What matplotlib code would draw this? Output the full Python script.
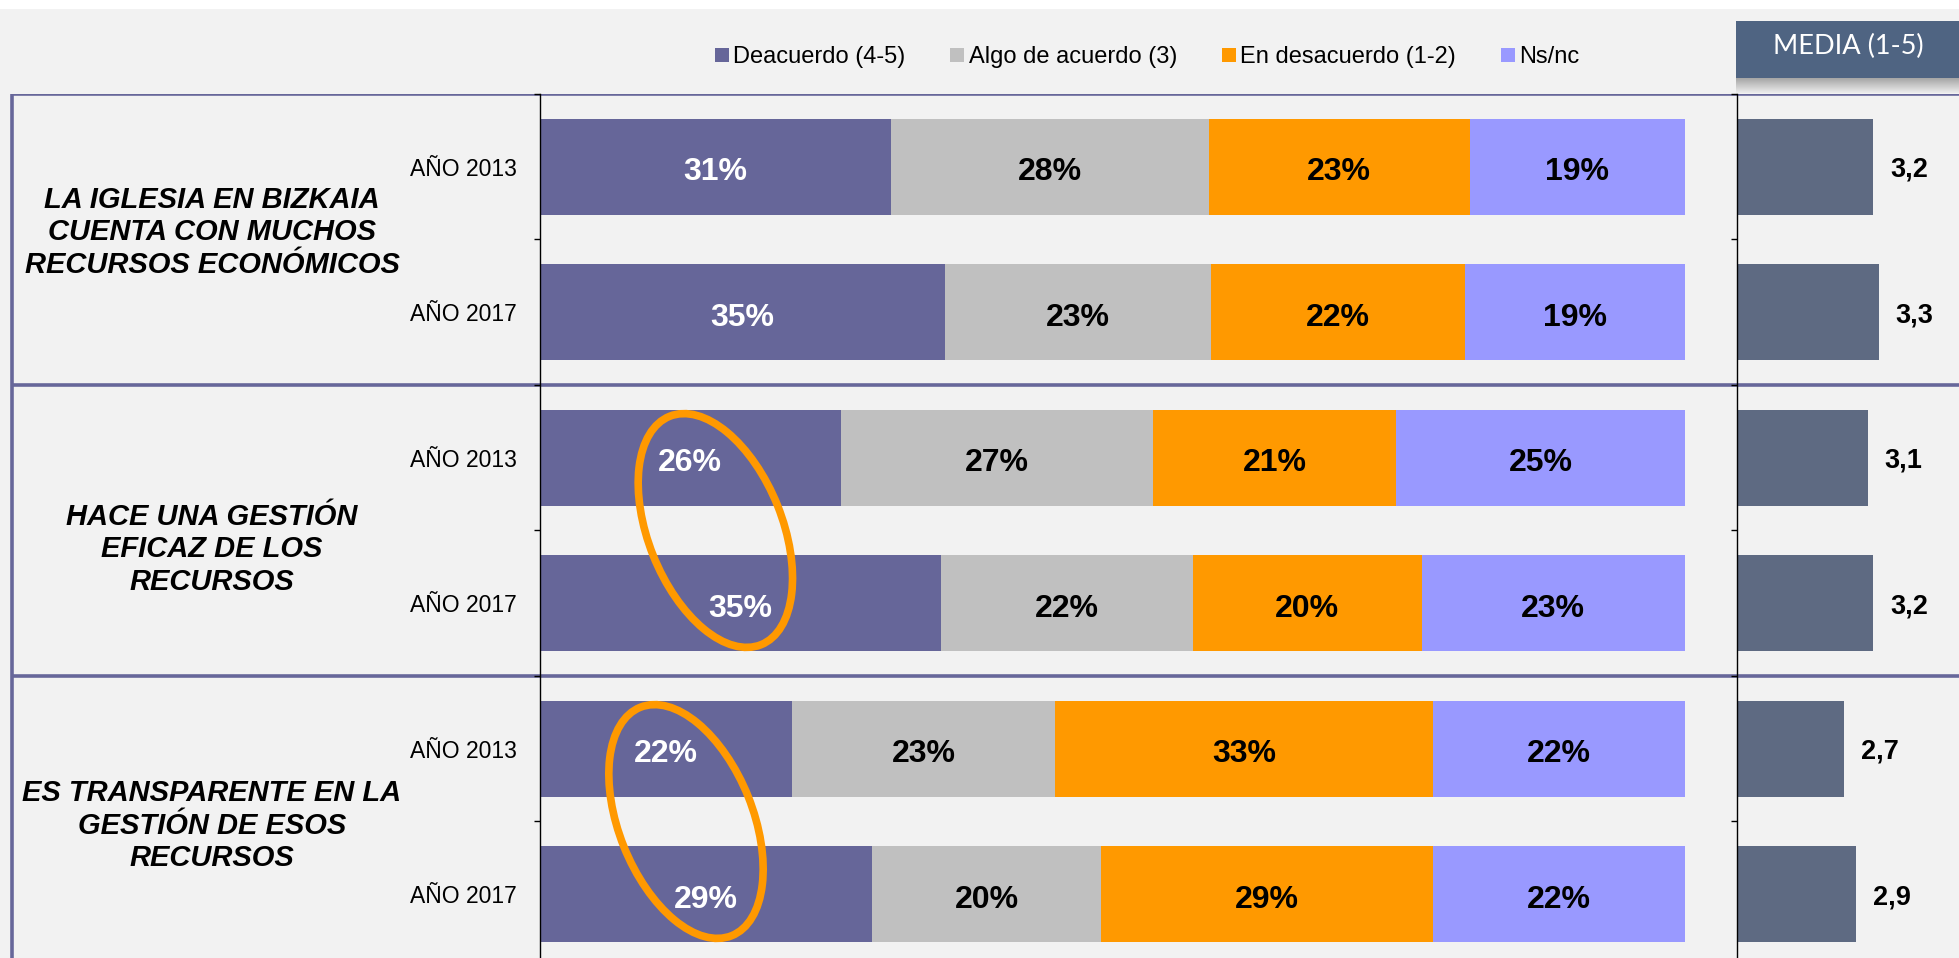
import numpy as np
import matplotlib
matplotlib.use('Agg')
import matplotlib.pyplot as plt
import matplotlib.transforms as mtransforms
from matplotlib.patches import Ellipse, Rectangle
from matplotlib.lines import Line2D
from matplotlib.colors import LinearSegmentedColormap

plt.rcParams['font.family'] = ['Liberation Sans', 'DejaVu Sans']

# data
categories = ['LA IGLESIA EN BIZKAIA\nCUENTA CON MUCHOS\nRECURSOS ECONÓMICOS',
              'HACE UNA GESTIÓN\nEFICAZ DE LOS\nRECURSOS',
              'ES TRANSPARENTE EN LA\nGESTIÓN DE ESOS\nRECURSOS']
years = ['AÑO 2013', 'AÑO 2017']
series = ['Deacuerdo (4-5)', 'Algo de acuerdo (3)', 'En desacuerdo (1-2)', 'Ns/nc']
de_acuerdo = [31, 35, 26, 35, 22, 29]
algo_acuerdo = [28, 23, 27, 22, 23, 20]
desacuerdo = [23, 22, 21, 20, 33, 29]
nsnc = [19, 19, 25, 23, 22, 22]
media = [3.2, 3.3, 3.1, 3.2, 2.7, 2.9]
highlight = [(2, 3), (4, 5)]

colors = ['#666699', '#c0c0c0', '#ff9900', '#9999ff']
text_colors = ['white', 'black', 'black', 'black']
media_color = '#5e6a82'
line_color = '#67679a'
title_shift = [-0.05, 0.13, 0.03]   # vertical nudge of the category titles (rows)

W, H = 1959, 958
fig = plt.figure(figsize=(W / 100, H / 100), dpi=100, facecolor='#f2f2f2')


def fx(px):
    return px / W


def fy(py):
    return 1 - py / H


top, bottom = 94, 967
ax_h = (bottom - top) / H
bg = fig.add_axes([0, fy(bottom), 1, ax_h], zorder=-1)
ax = fig.add_axes([fx(540), fy(bottom), fx(1685) - fx(540), ax_h])
axm = fig.add_axes([fx(1737), fy(bottom), 1 - fx(1737), ax_h])

y = np.arange(len(de_acuerdo))
data = np.array([de_acuerdo, algo_acuerdo, desacuerdo, nsnc], dtype=float)
shares = data / data.sum(axis=0) * 100

left = np.zeros(len(y))
for i in range(len(series)):
    ax.barh(y, shares[i], left=left, height=0.66, color=colors[i])
    for yy, l, w, v in zip(y, left, shares[i], data[i]):
        ax.text(l + w / 2, yy + 0.015, f'{v:.0f}%', ha='center', va='center_baseline',
                fontsize=23, fontweight='bold', color=text_colors[i])
    left += shares[i]
ax.set_xlim(0, 100)

axm.barh(y, media, height=0.66, color=media_color)
for yy, m in zip(y, media):
    axm.annotate(f'{m:.1f}'.replace('.', ','), (m, yy), xytext=(12, 0),
                 textcoords='offset points', ha='left', va='center_baseline',
                 fontsize=19.5, fontweight='bold')
axm.set_xlim(0.86, 4.67)

for a in (ax, axm):
    a.set_ylim(5.5, -0.5)
    a.set_yticks(np.arange(-0.5, 6, 1))
    a.set_yticklabels([])
    a.tick_params(axis='y', which='major', direction='out', length=4.5, width=1)
    a.set_xticks([])
    for s in ['top', 'right', 'bottom']:
        a.spines[s].set_visible(False)
    a.spines['left'].set_linewidth(1)
    a.patch.set_alpha(0)

ax.set_yticks(y, minor=True)
ax.set_yticklabels(years * 3, minor=True, fontsize=16.5)
ax.tick_params(axis='y', which='minor', length=0, pad=16.5)

# ellipses around the "de acuerdo" labels
for r1, r2 in highlight:
    cx = (shares[0][r1] + shares[0][r2]) / 4
    cy = (r1 + r2) / 2
    tr = fig.dpi_scale_trans + mtransforms.ScaledTranslation(cx, cy, ax.transData)
    e = Ellipse((0, 0), 1.34, 2.46, angle=21.8, transform=tr, fill=False,
                edgecolor='#ff9900', lw=5.5, clip_on=False, zorder=5)
    ax.add_patch(e)

# section frame and category titles
bg.set_xlim(0, W)
bg.set_ylim(5.5, -0.5)
bg.axis('off')
bg.hlines([-0.5, 1.5, 3.5], 12, W, color=line_color, lw=2.6)
bg.vlines(12, -0.5, 5.5, color=line_color, lw=2.6)
for i, cat in enumerate(categories):
    bg.text(212, 2 * i + 0.5 + title_shift[i], cat, ha='center', va='center', fontsize=21,
            fontweight='bold', style='italic', linespacing=1.2)

# legend
handles = [Line2D([], [], ls='none', marker='s', markersize=9.4, markeredgewidth=0,
                  color=c) for c in colors]
fig.legend(handles, series, loc='center', bbox_to_anchor=(fx(1147), fy(57)), ncol=4,
           frameon=False, fontsize=17, handlelength=0.6, handletextpad=0.17,
           columnspacing=1.9, borderpad=0)

# white strip on top and MEDIA header box
fig.add_artist(Rectangle((0, fy(9)), 1, 9 / H, transform=fig.transFigure,
                         color='white', lw=0))
fig.add_artist(Rectangle((fx(1736), fy(78)), 1 - fx(1736), (78 - 21) / H,
                         transform=fig.transFigure, color='#4f6482', lw=0))
fig.text(fx(1848), fy(44), 'MEDIA (1-5)', ha='center', va='center_baseline', color='white',
         fontsize=19.5, family=['Lato', 'DejaVu Sans'])
gax = fig.add_axes([fx(1736), fy(93), 1 - fx(1736), 15 / H])
shadow = LinearSegmentedColormap.from_list('shadow', ['#a6a6a6', '#ececec'])
gax.imshow(np.linspace(0, 1, 30)[:, None], cmap=shadow, aspect='auto')
gax.axis('off')

fig.savefig('out.png', dpi=100, facecolor=fig.get_facecolor())
